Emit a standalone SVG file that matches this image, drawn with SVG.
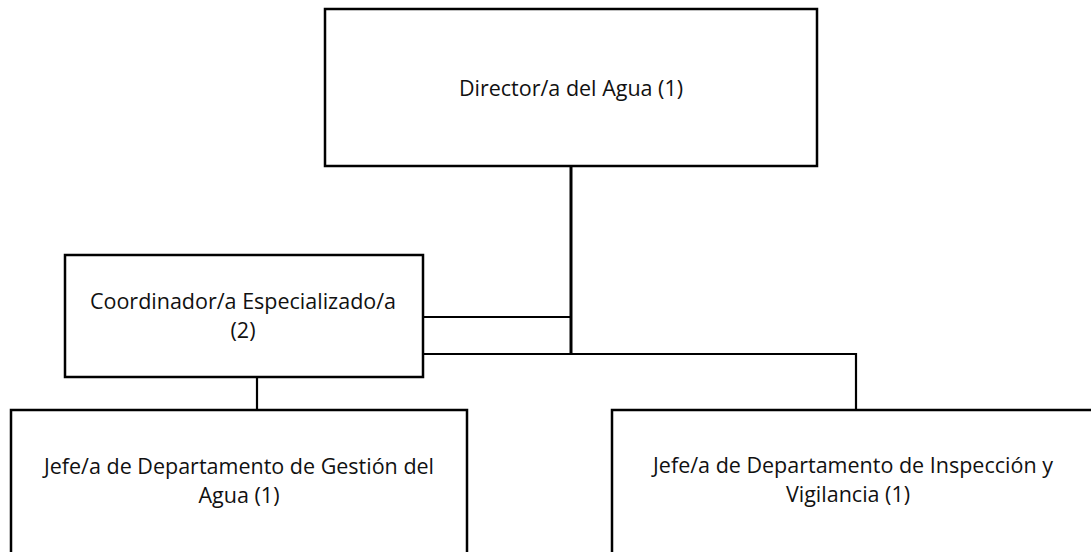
<svg xmlns="http://www.w3.org/2000/svg" width="1091" height="552" viewBox="0 0 1091 552">
<style>
.box{fill:#fff;stroke:#000;stroke-width:2.5}
.lbl{font-family:"Open Sans","Liberation Sans",sans-serif;font-size:21.5px;fill:#111;text-anchor:middle}
.ln{stroke:#000;stroke-width:2.2;fill:none}
</style>
<rect width="1091" height="552" fill="#fff"/>
<g id="connectors">
<line class="ln" x1="571" y1="166" x2="571" y2="354" style="stroke-width:3"/>
<line class="ln" x1="423" y1="317" x2="571" y2="317"/>
<line class="ln" x1="423" y1="354" x2="856" y2="354"/>
<line class="ln" x1="856" y1="353" x2="856" y2="410"/>
<line class="ln" x1="257" y1="377" x2="257" y2="410"/>
</g>
<g id="director">
<rect class="box" x="325" y="9" width="492" height="157"/>
<text class="lbl" x="571" y="96">Director/a del Agua (1)</text>
</g>
<g id="coordinador">
<rect class="box" x="65" y="255" width="358" height="122"/>
<text class="lbl" x="243" y="309">Coordinador/a Especializado/a</text>
<text class="lbl" x="243" y="338">(2)</text>
</g>
<g id="jefe-gestion">
<rect class="box" x="11" y="410" width="456" height="160"/>
<text class="lbl" x="239" y="474">Jefe/a de Departamento de Gestión del</text>
<text class="lbl" x="239" y="503">Agua (1)</text>
</g>
<g id="jefe-inspeccion">
<rect class="box" x="612" y="410" width="500" height="160"/>
<text class="lbl" x="853" y="473">Jefe/a de Departamento de Inspección y</text>
<text class="lbl" x="848" y="502">Vigilancia (1)</text>
</g>
</svg>
